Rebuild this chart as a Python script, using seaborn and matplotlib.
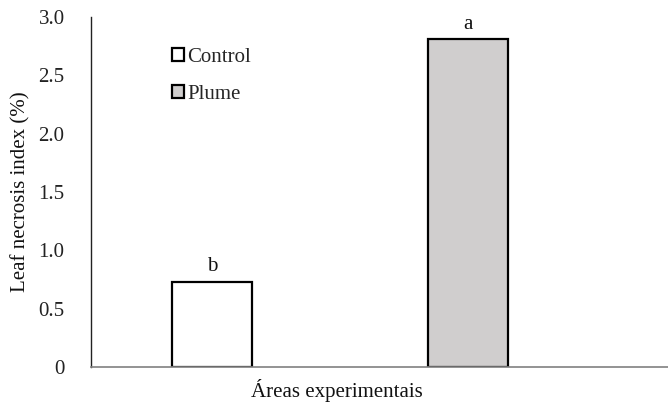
import matplotlib
matplotlib.use("Agg")
import matplotlib.pyplot as plt
import seaborn as sns
import pandas as pd
from matplotlib.ticker import FuncFormatter, MultipleLocator
from matplotlib.patches import Patch

categories = ["Control", "Plume"]
values = [0.73, 2.81]
letters = ["b", "a"]
colors = ["#FFFFFF", "#D0CECE"]

sns.set_style("white")
plt.rcParams["font.family"] = ["Liberation Serif", "DejaVu Serif"]

df = pd.DataFrame({"group": categories, "value": values})

fig = plt.figure(figsize=(6.68, 4.04), dpi=100)
ax = fig.add_axes([91/668, 37/404, 577/668, 350/404])

sns.barplot(data=df, x="group", y="value", hue="group", palette=colors,
            width=0.3125, edgecolor="black", linewidth=1.6, ax=ax, legend=False)

ax.set_xlim(-0.4727, 1.781)
ax.set_ylim(0, 3.0)
ax.yaxis.set_major_locator(MultipleLocator(0.5))
ax.yaxis.set_major_formatter(FuncFormatter(lambda v, p: "0" if abs(v) < 1e-9 else f"{v:.1f}"))
ax.set_xticks([])
ax.tick_params(axis="y", length=0, pad=19, labelsize=15, labelcolor="#222222")

for s in ["top", "right"]:
    ax.spines[s].set_visible(False)
ax.spines["left"].set_color("#222222")
ax.spines["left"].set_linewidth(1.0)
ax.spines["bottom"].set_color("#808080")
ax.spines["bottom"].set_linewidth(1.2)

for i, (v, t) in enumerate(zip(values, letters)):
    ax.annotate(t, xy=(i, v), xytext=(0, 4), textcoords="offset points",
                ha="center", va="bottom", fontsize=15, color="#111111")

ax.set_ylabel("Leaf necrosis index (%)", fontsize=15, labelpad=6, color="#111111")
ax.set_xlabel("Áreas experimentais", fontsize=15, labelpad=6, color="#111111")
ax.xaxis.set_label_coords(0.426, -0.035, transform=ax.transAxes)
ax.xaxis.label.set_va("top")

handles = [Patch(facecolor=c, edgecolor="black", linewidth=1.6) for c in colors]
leg = ax.legend(handles, categories, loc="upper left", bbox_to_anchor=(0.140, 0.912),
                frameon=False, fontsize=15, handlelength=0.6, handleheight=0.6,
                handletextpad=0.15, labelspacing=0.88, borderpad=0, borderaxespad=0)

fig.savefig("out.png", dpi=100)
